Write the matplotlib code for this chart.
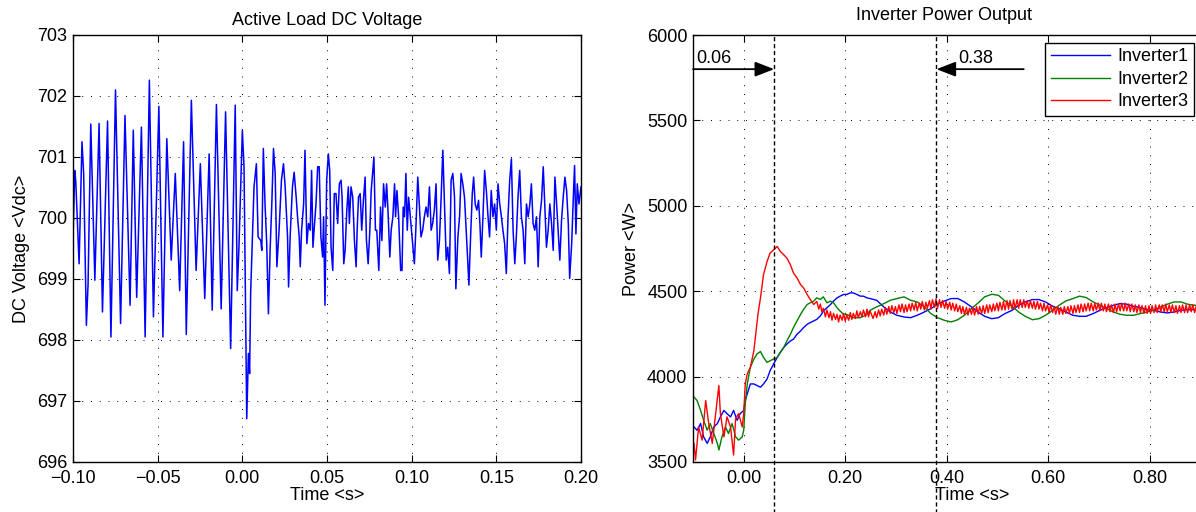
import matplotlib
matplotlib.use("Agg")
import matplotlib.pyplot as plt
from matplotlib.ticker import FuncFormatter

plt.rcParams['font.family'] = ['Liberation Sans', 'DejaVu Sans']
plt.rcParams['font.size'] = 13

# ---------------- Left: Active Load DC Voltage ----------------
vdc_t_ms = [-100, -99.0, -98.4, -96.4, -94.7, -93.7, -92.1, -91.1, -89.5, -87.1, -84.6, -82.6,
            -79.6, -77.6, -74.9, -71.9, -69.3, -66.3, -64.4, -62.4, -59.6, -57.4, -54.9, -52.5,
            -49.3, -46.9, -44.6, -42.0, -39.6, -37.0, -34.7, -33.1, -30.1, -27.3, -24.8, -22.2,
            -19.6, -17.8, -15.3, -12.5, -9.9, -6.9, -4.2, -3.0, -2.0, 0.0, 1.0, 2.0, 2.6, 3.6,
            4.3, 4.9, 5.9, 6.9, 8.3, 9.3, 10.9, 11.5, 12.4, 13.4, 14.4, 15.4, 16.4, 17.4, 18.4,
            19.4, 20.4, 21.7, 23.1, 24.3, 25.3, 26.7, 27.3, 28.3, 29.6, 30.6, 31.8, 32.6, 33.6,
            34.2, 35.0, 36.2, 37.0, 38.1, 39.1, 40.1, 40.9, 41.7, 42.5, 43.5, 44.5, 45.4, 46.4,
            47.4, 48.0, 48.8, 49.8, 50.8, 51.6, 52.4, 53.4, 54.3, 55.3, 56.3, 57.3, 58.3, 58.9,
            59.9, 60.7, 61.7, 62.6, 63.2, 64.2, 65.2, 66.2, 67.2, 67.8, 68.6, 69.6, 70.5, 71.5,
            72.5, 73.3, 74.3, 75.3, 76.1, 77.7, 78.6, 79.4, 80.6, 81.6, 82.4, 83.4, 84.4, 85.2,
            86.0, 87.1, 87.9, 88.9, 89.9, 90.5, 91.3, 92.3, 93.5, 94.3, 95.0, 95.8, 96.6, 97.4,
            98.2, 101.6, 102.6, 103.6, 104.5, 105.5, 106.5, 107.5, 108.5, 109.5, 110.5, 111.5,
            112.4, 113.4, 114.4, 115.4, 116.4, 117.4, 118.4, 119.4, 120.4, 121.3, 122.3, 123.3,
            124.3, 125.3, 126.1, 127.3, 128.3, 129.2, 130.2, 131.2, 132.2, 133.2, 133.8, 134.8,
            135.8, 136.6, 137.5, 138.5, 139.5, 140.3, 141.1, 142.1, 143.1, 144.1, 145.1, 146.0,
            147.0, 148.0, 149.0, 150.0, 151.0, 152.0, 153.0, 153.9, 154.9, 155.9, 156.9, 157.9,
            158.9, 159.9, 160.9, 161.8, 162.8, 163.8, 164.8, 165.8, 166.8, 167.8, 168.8, 169.8,
            170.7, 171.7, 172.7, 173.7, 174.7, 175.7, 176.7, 177.7, 178.6, 179.6, 180.6, 181.6,
            182.6, 183.6, 184.6, 185.6, 186.5, 187.5, 188.5, 189.5, 190.5, 191.5, 192.5, 193.3,
            194.5, 195.4, 196.2, 197.0, 197.8, 198.8, 200.0]
vdc_v = [699.63, 700.78, 700.62, 699.25, 701.25, 700.73, 698.24, 698.92, 701.54, 698.98, 701.55,
         698.46, 701.59, 698.05, 702.10, 698.27, 701.68, 698.57, 701.44, 698.70, 701.49, 698.05,
         702.26, 698.38, 701.83, 698.05, 701.30, 699.31, 700.73, 698.81, 701.25, 698.09, 701.93,
         699.14, 700.89, 698.68, 701.05, 698.49, 701.86, 698.51, 701.74, 697.86, 701.85, 698.81,
         699.52, 701.44, 700.84, 698.27, 696.71, 697.78, 697.45, 698.76, 699.61, 700.51, 700.89,
         699.69, 699.63, 699.47, 701.14, 700.23, 699.58, 698.43, 699.47, 700.23, 701.14, 700.73,
         699.20, 699.80, 700.62, 700.89, 700.51, 699.69, 698.87, 699.74, 700.51, 700.75, 700.34,
         700.02, 699.69, 699.20, 699.80, 700.23, 701.11, 699.58, 699.91, 699.80, 700.78, 699.52,
         699.85, 700.23, 700.84, 700.84, 699.69, 699.36, 700.02, 698.57, 700.62, 701.05, 700.78,
         699.52, 699.14, 700.40, 700.40, 699.91, 700.56, 700.62, 700.34, 699.25, 699.47, 700.13,
         700.51, 699.91, 700.51, 700.34, 699.63, 699.20, 699.80, 700.34, 700.40, 699.80, 700.29,
         700.67, 699.63, 699.25, 699.80, 700.45, 701.00, 699.80, 699.80, 699.14, 700.18, 699.63,
         700.56, 700.18, 700.56, 700.13, 699.36, 699.80, 700.02, 700.56, 700.02, 700.45, 700.02,
         699.14, 699.14, 700.18, 700.02, 700.73, 699.80, 700.34, 699.25, 699.91, 700.67, 700.23,
         699.69, 699.80, 700.02, 700.18, 700.02, 700.51, 699.80, 699.91, 700.13, 700.56, 699.31,
         699.63, 700.34, 701.11, 700.23, 699.31, 699.52, 699.09, 700.62, 700.73, 700.34, 698.84,
         699.69, 700.02, 700.73, 700.56, 700.34, 699.80, 699.25, 698.90, 699.69, 700.40, 700.67,
         700.23, 700.13, 700.29, 699.91, 699.36, 700.02, 700.78, 700.45, 700.02, 699.69, 700.45,
         700.02, 700.23, 699.80, 700.56, 700.23, 700.02, 699.80, 699.58, 699.09, 700.02, 700.62,
         700.97, 699.80, 699.25, 699.69, 700.34, 700.78, 700.02, 699.80, 699.25, 700.23, 700.02,
         700.23, 700.56, 699.91, 699.80, 700.02, 699.20, 700.02, 700.29, 700.84, 700.23, 699.52,
         699.80, 700.23, 699.91, 699.47, 700.67, 700.23, 699.80, 699.31, 699.96, 700.34, 700.67,
         700.45, 699.91, 699.01, 699.58, 700.29, 700.86, 699.74, 700.56, 700.23, 700.51]

# ---------------- Right: Inverter Power Output ----------------
inv1_t = [-0.098, -0.092, -0.085, -0.079, -0.072, -0.066, -0.059, -0.052, -0.046, -0.039, -0.033,
          -0.026, -0.020, -0.013, -0.007, 0.000, 0.003, 0.007, 0.013, 0.020, 0.026, 0.033, 0.039,
          0.046, 0.052, 0.059, 0.066, 0.072, 0.079, 0.085, 0.092, 0.098, 0.105, 0.112, 0.118,
          0.125, 0.131, 0.138, 0.144, 0.151, 0.157, 0.164, 0.171, 0.177, 0.184, 0.190, 0.197,
          0.203, 0.210, 0.216, 0.223, 0.230, 0.236, 0.243, 0.249, 0.262, 0.276, 0.289, 0.302,
          0.316, 0.329, 0.342, 0.356, 0.369, 0.382, 0.396, 0.409, 0.422, 0.435, 0.449, 0.462,
          0.475, 0.489, 0.502, 0.515, 0.529, 0.542, 0.555, 0.569, 0.582, 0.595, 0.609, 0.622,
          0.635, 0.649, 0.662, 0.675, 0.689, 0.702, 0.715, 0.729, 0.742, 0.755, 0.768, 0.782,
          0.795, 0.808, 0.822, 0.835, 0.848, 0.862, 0.875, 0.888, 0.900]
inv1_p = [3705, 3686, 3725, 3647, 3609, 3647, 3705, 3725, 3764, 3802, 3783, 3764, 3802, 3744, 3783,
          3802, 3860, 3899, 3957, 3957, 3948, 3938, 3957, 3986, 4035, 4074, 4112, 4141, 4171, 4190,
          4209, 4219, 4248, 4267, 4287, 4306, 4316, 4326, 4335, 4355, 4384, 4403, 4422, 4442, 4461,
          4471, 4481, 4481, 4490, 4490, 4481, 4471, 4471, 4461, 4457, 4447, 4408, 4378, 4359, 4349,
          4345, 4359, 4378, 4398, 4424, 4443, 4457, 4457, 4437, 4408, 4378, 4353, 4339, 4345, 4369,
          4388, 4418, 4437, 4451, 4451, 4437, 4412, 4398, 4378, 4359, 4353, 4353, 4369, 4388, 4404,
          4418, 4427, 4424, 4412, 4404, 4392, 4388, 4378, 4373, 4378, 4388, 4392, 4392, 4398]

inv2_t = [-0.098, -0.092, -0.085, -0.079, -0.072, -0.066, -0.059, -0.052, -0.049, -0.043, -0.036,
          -0.030, -0.023, -0.016, -0.010, -0.003, 0.000, 0.003, 0.007, 0.013, 0.020, 0.026, 0.033,
          0.039, 0.046, 0.052, 0.059, 0.066, 0.072, 0.079, 0.085, 0.092, 0.098, 0.105, 0.112,
          0.118, 0.125, 0.131, 0.138, 0.144, 0.151, 0.157, 0.164, 0.171, 0.177, 0.184, 0.190,
          0.197, 0.203, 0.216, 0.230, 0.243, 0.249, 0.262, 0.276, 0.289, 0.302, 0.316, 0.329,
          0.342, 0.356, 0.369, 0.382, 0.396, 0.409, 0.422, 0.435, 0.449, 0.462, 0.475, 0.489,
          0.502, 0.515, 0.529, 0.542, 0.555, 0.569, 0.582, 0.595, 0.609, 0.622, 0.635, 0.649,
          0.662, 0.675, 0.689, 0.702, 0.715, 0.729, 0.742, 0.755, 0.768, 0.782, 0.795, 0.808,
          0.822, 0.835, 0.848, 0.862, 0.875, 0.888, 0.900]
inv2_p = [3880, 3860, 3802, 3744, 3686, 3725, 3667, 3609, 3570, 3647, 3705, 3667, 3725, 3647, 3628,
          3647, 3686, 3841, 3957, 4054, 4103, 4132, 4147, 4112, 4083, 4093, 4103, 4112, 4141, 4171,
          4209, 4248, 4287, 4326, 4364, 4393, 4422, 4432, 4442, 4461, 4452, 4467, 4432, 4442, 4432,
          4403, 4384, 4364, 4364, 4345, 4345, 4364, 4388, 4408, 4427, 4447, 4457, 4467, 4447, 4437,
          4408, 4369, 4345, 4329, 4320, 4333, 4359, 4398, 4431, 4467, 4482, 4476, 4443, 4412, 4378,
          4353, 4333, 4339, 4359, 4388, 4418, 4443, 4457, 4471, 4463, 4437, 4418, 4398, 4378, 4365,
          4359, 4359, 4369, 4378, 4388, 4408, 4424, 4437, 4437, 4424, 4418, 4418]

inv3_t = [-0.098, -0.095, -0.089, -0.082, -0.075, -0.069, -0.062, -0.056, -0.049, -0.046, -0.039,
          -0.033, -0.026, -0.020, -0.016, -0.010, -0.003, 0.000, 0.003, 0.007, 0.013, 0.020, 0.028,
          0.033, 0.039, 0.046, 0.052, 0.059, 0.066, 0.072, 0.079, 0.085, 0.092, 0.098, 0.105,
          0.112, 0.118, 0.125, 0.131, 0.138,
          0.144, 0.148, 0.151, 0.154, 0.157, 0.161, 0.164, 0.168, 0.171, 0.174, 0.177, 0.181,
          0.184, 0.187, 0.190, 0.194, 0.197, 0.200, 0.203, 0.207, 0.210, 0.213, 0.216, 0.220,
          0.223, 0.226, 0.230, 0.233, 0.236, 0.240, 0.243, 0.246, 0.249, 0.255, 0.259, 0.262,
          0.266, 0.269, 0.272, 0.276, 0.279, 0.282, 0.286, 0.289, 0.292, 0.296, 0.299, 0.302,
          0.306, 0.309, 0.312, 0.316, 0.319, 0.322, 0.326, 0.329, 0.332, 0.336, 0.339, 0.342,
          0.346, 0.349, 0.352, 0.356, 0.359, 0.362, 0.366, 0.369, 0.372, 0.376, 0.379, 0.382,
          0.386, 0.389, 0.392, 0.396, 0.399, 0.402, 0.406, 0.409, 0.412, 0.416, 0.419, 0.422,
          0.426, 0.429, 0.432, 0.435, 0.439, 0.442, 0.445, 0.449, 0.452, 0.455, 0.459, 0.462,
          0.465, 0.469, 0.472, 0.475, 0.479, 0.482, 0.485, 0.489, 0.492, 0.495, 0.499, 0.502,
          0.505, 0.509, 0.512, 0.515, 0.519, 0.522, 0.525, 0.529, 0.532, 0.535, 0.539, 0.542,
          0.545, 0.549, 0.552, 0.555, 0.559, 0.562, 0.565, 0.569, 0.572, 0.575, 0.579, 0.582,
          0.585, 0.589, 0.592, 0.595, 0.599, 0.602, 0.605, 0.609, 0.612, 0.615, 0.619, 0.622,
          0.625, 0.629, 0.632, 0.635, 0.639, 0.642, 0.645, 0.649, 0.652, 0.655, 0.659, 0.662,
          0.665, 0.669, 0.672, 0.675, 0.679, 0.682, 0.685, 0.689, 0.692, 0.695, 0.699, 0.702,
          0.705, 0.709, 0.712, 0.715, 0.719, 0.722, 0.725, 0.729, 0.732, 0.735, 0.739, 0.742,
          0.745, 0.749, 0.752, 0.755, 0.759, 0.762, 0.765, 0.769, 0.772, 0.775, 0.779, 0.782,
          0.785, 0.789, 0.792, 0.795, 0.799, 0.802, 0.805, 0.809, 0.812, 0.815, 0.819, 0.822,
          0.825, 0.829, 0.832, 0.835, 0.839, 0.842, 0.845, 0.849, 0.852, 0.855, 0.859, 0.862,
          0.865, 0.869, 0.872, 0.875, 0.879, 0.882, 0.885, 0.889, 0.892, 0.895]
inv3_p = [3609, 3512, 3705, 3628, 3860, 3725, 3609, 3764, 3948, 3783, 3647, 3764, 3705, 3541, 3754,
          3783, 3705, 3783, 3957, 4016, 4054, 4151, 4364, 4461, 4597, 4674, 4723, 4742, 4762, 4733,
          4713, 4694, 4655, 4607, 4578, 4539, 4519, 4481, 4452, 4422,
          4440, 4395, 4425, 4380, 4400, 4350, 4390, 4345, 4380, 4330, 4370, 4335, 4365, 4320, 4360,
          4330, 4370, 4325, 4360, 4330, 4375, 4335, 4370, 4340, 4385, 4345, 4380, 4350, 4390, 4350,
          4395, 4350, 4385, 4340, 4380, 4345, 4390, 4355, 4395, 4360, 4405, 4365, 4410, 4370, 4415,
          4375, 4410, 4370, 4420, 4380, 4425, 4375, 4420, 4380, 4425, 4385, 4430, 4390, 4435, 4385,
          4430, 4395, 4440, 4390, 4435, 4400, 4445, 4395, 4450, 4405, 4455, 4400, 4450, 4405, 4445,
          4400, 4440, 4395, 4435, 4390, 4430, 4385, 4425, 4380, 4415, 4370, 4410, 4365, 4405, 4360,
          4400, 4365, 4405, 4360, 4410, 4365, 4410, 4370, 4415, 4370, 4420, 4375, 4420, 4380, 4425,
          4385, 4430, 4385, 4435, 4390, 4440, 4390, 4445, 4395, 4445, 4395, 4450, 4400, 4450, 4400,
          4450, 4405, 4450, 4405, 4445, 4400, 4445, 4400, 4440, 4395, 4440, 4395, 4430, 4385, 4430,
          4385, 4420, 4375, 4420, 4375, 4410, 4365, 4410, 4365, 4405, 4365, 4410, 4370, 4410, 4370,
          4415, 4370, 4415, 4375, 4420, 4375, 4425, 4380, 4425, 4385, 4430, 4385, 4430, 4385, 4430,
          4390, 4430, 4385, 4430, 4385, 4425, 4380, 4425, 4380, 4420, 4375, 4425, 4380, 4425, 4385,
          4430, 4385, 4430, 4385, 4425, 4380, 4425, 4380, 4420, 4375, 4420, 4375, 4415, 4370, 4415,
          4370, 4415, 4370, 4415, 4375, 4420, 4375, 4420, 4380, 4420, 4380, 4425, 4380, 4420, 4375,
          4420, 4375, 4415, 4370, 4415, 4375, 4420, 4375, 4420, 4375, 4420, 4380, 4420, 4375, 4415,
          4375]

series_names = ['Inverter1', 'Inverter2', 'Inverter3']
series_colors = ['#0000ff', '#008000', '#ff0000']
marker_times = [0.06, 0.38]

W, H = 1196, 512
fig = plt.figure(figsize=(W / 100, H / 100), dpi=100)

ax1 = fig.add_axes([73 / W, 1 - 462 / H, (581 - 73) / W, 427 / H])
ax2 = fig.add_axes([693 / W, 1 - 462 / H, (1251 - 693) / W, 427 / H])

grid_kw = dict(color='k', linestyle=(0, (1, 8)), linewidth=0.7)


def minus_fmt(v, pos):
    return ('%.2f' % v).replace('-', '\u2212')


ax1.plot([t / 1000 for t in vdc_t_ms], vdc_v, color='#0000ff', lw=1.1)
ax1.set_xlim(-0.10, 0.20)
ax1.set_ylim(696, 703)
ax1.set_xticks([-0.10, -0.05, 0.00, 0.05, 0.10, 0.15, 0.20])
ax1.set_yticks(range(696, 704))
ax1.xaxis.set_major_formatter(FuncFormatter(minus_fmt))
ax1.set_title('Active Load DC Voltage', fontsize=13, pad=7)
ax1.set_xlabel('Time <s>', labelpad=0)
ax1.set_ylabel('DC Voltage <Vdc>', labelpad=5)
ax1.grid(True, **grid_kw)

for t, p, n, c in zip([inv1_t, inv2_t, inv3_t], [inv1_p, inv2_p, inv3_p], series_names, series_colors):
    ax2.plot(t, p, color=c, lw=1.0, label=n)
ax2.set_xlim(-0.1, 1.0)
ax2.set_ylim(3500, 6000)
ax2.set_xticks([0.0, 0.2, 0.4, 0.6, 0.8])
ax2.set_yticks(range(3500, 6001, 500))
ax2.xaxis.set_major_formatter(FuncFormatter(minus_fmt))
ax2.set_xlabel('Time <s>', labelpad=0)
ax2.set_ylabel('Power <W>', labelpad=5)
ax2.grid(True, **grid_kw)
# title centred on the visible part of the axes
fig.text((693 + 1196) / 2 / W, 1 - 15 / H, 'Inverter Power Output', ha='center', va='center', fontsize=13)

for ax in (ax1, ax2):
    ax.tick_params(direction='in', length=5, width=0.8, top=True, right=True, labelsize=13, pad=4)
    ax.tick_params(axis='x', pad=6)
    for s in ax.spines.values():
        s.set_linewidth(1.0)

for mt in marker_times:
    ax2.axvline(mt, ymin=-0.12, ymax=1.0, color='k', linestyle=(0, (3, 2)), lw=1.0, clip_on=False)

arrow_kw = dict(arrowstyle='-|>,head_length=0.9,head_width=0.35', color='k', lw=1.3,
                shrinkA=0, shrinkB=0)
ax2.annotate('', xy=(marker_times[0], 5800), xytext=(-0.1, 5800), arrowprops=arrow_kw)
ax2.text(-0.094, 5815, '0.06', ha='left', va='bottom', fontsize=13)
ax2.annotate('', xy=(marker_times[1], 5800), xytext=(0.552, 5800), arrowprops=arrow_kw)
ax2.text(0.423, 5815, '0.38', ha='left', va='bottom', fontsize=13)

leg = ax2.legend(loc='upper right', bbox_to_anchor=(1194 / W, 1 - 43 / H),
                 bbox_transform=fig.transFigure, borderaxespad=0, fancybox=False,
                 edgecolor='k', framealpha=1, handlelength=3.3, handletextpad=0.4,
                 labelspacing=0.3, borderpad=0.3, fontsize=13)
leg.get_frame().set_linewidth(1.0)

fig.savefig('out.png', dpi=100)
